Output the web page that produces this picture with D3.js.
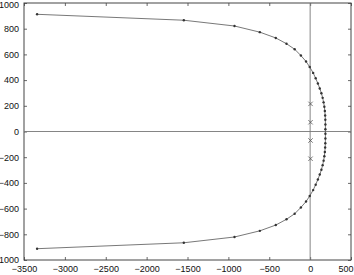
<!DOCTYPE html>
<html>
<head>
<meta charset="utf-8">
<script src="https://cdn.jsdelivr.net/npm/d3@7"></script>
<style>
  body { margin: 0; background: #fff; }
  svg text { font-family: "Liberation Sans", Arial, sans-serif; font-size: 9px; fill: #111; }
</style>
</head>
<body>
<div id="chart"></div>
<script>
// locus points (top branch then bottom branch)
const locusRe = [-3340, -1545, -925, -615, -420, -289, -189, -113, -50, -5, 37, 68, 95, 118, 138, 153, 165, 174, 180, 184, 186, 187, 187,
                 187, 187, 186, 184, 180, 174, 165, 153, 138, 118, 95, 68, 37, -5, -50, -113, -189, -289, -420, -615, -925, -1545, -3340];
const locusIm = [912, 866, 821, 773, 728, 683, 640, 591, 545, 502, 456, 414, 373, 335, 298, 262, 227, 193, 159, 125, 91, 54, 18,
                 -18, -54, -91, -125, -159, -193, -227, -262, -298, -335, -373, -414, -456, -502, -545, -591, -640, -683, -728, -773, -821, -866, -912];
// open-loop poles (x marks)
const poleRe = [5, 5, 5, 5];
const poleIm = [215, 72, -70, -212];

const xTicks = [-3500, -3000, -2500, -2000, -1500, -1000, -500, 0, 500];
const yTicks = [-1000, -800, -600, -400, -200, 0, 200, 400, 600, 800, 1000];

let margin = {top: 3, right: 3, bottom: 15, left: 24};
let W = 354, H = 275;
let width = W - margin.left - margin.right;
let height = H - margin.top - margin.bottom;

let svg = d3.select("#chart").append("svg")
    .attr("width", W)
    .attr("height", H);

let g = svg.append("g")
    .attr("transform", "translate(" + margin.left + "," + margin.top + ")");

let x = d3.scaleLinear().domain([-3500, 500]).range([0, width]);
let y = d3.scaleLinear().domain([-1000, 1000]).range([height, 0]);

let fmt = d => (d < 0 ? "\u2212" + Math.abs(d) : "" + d);

// axes with inward ticks on all four sides
let xAxisB = d3.axisBottom(x).tickValues(xTicks).tickSizeInner(-3).tickSizeOuter(0).tickPadding(6).tickFormat(fmt);
let xAxisT = d3.axisTop(x).tickValues(xTicks).tickSizeInner(-3).tickSizeOuter(0).tickFormat("");
let yAxisL = d3.axisLeft(y).tickValues(yTicks).tickSizeInner(-3).tickSizeOuter(0).tickPadding(5).tickFormat(fmt);
let yAxisR = d3.axisRight(y).tickValues(yTicks).tickSizeInner(-3).tickSizeOuter(0).tickFormat("");

let gx = g.append("g").attr("transform", "translate(0," + height + ")").call(xAxisB);
g.append("g").call(xAxisT);
let gy = g.append("g").call(yAxisL);
g.append("g").attr("transform", "translate(" + width + ",0)").call(yAxisR);

g.selectAll(".domain").remove();
g.selectAll(".tick line").attr("stroke", "#444").attr("stroke-width", 0.8);
g.selectAll(".tick text").style("font-size", "9px");

// keep the last x label inside the window
gx.selectAll(".tick text").filter(d => d === 500)
    .attr("text-anchor", "end").attr("dx", "2");
gy.selectAll(".tick text").filter(d => d === 1000).attr("dy", "0.45em");

// box
g.append("rect")
    .attr("x", 0).attr("y", 0)
    .attr("width", width).attr("height", height)
    .attr("fill", "none")
    .attr("stroke", "#444")
    .attr("stroke-width", 1);

// real and imaginary axes
g.append("line")
    .attr("x1", 0).attr("x2", width)
    .attr("y1", y(0)).attr("y2", y(0))
    .attr("stroke", "#777").attr("stroke-width", 0.9);
g.append("line")
    .attr("x1", x(0)).attr("x2", x(0))
    .attr("y1", 0).attr("y2", height)
    .attr("stroke", "#777").attr("stroke-width", 0.9);

// locus curve
let pts = locusRe.map((d, i) => [d, locusIm[i]]);
g.append("path")
    .datum(pts)
    .attr("fill", "none")
    .attr("stroke", "#555")
    .attr("stroke-width", 0.8)
    .attr("d", d3.line().x(d => x(d[0])).y(d => y(d[1])));

g.append("g").selectAll("circle")
    .data(pts)
    .enter().append("circle")
    .attr("cx", d => x(d[0]))
    .attr("cy", d => y(d[1]))
    .attr("r", 1.2)
    .attr("fill", "#333");

// pole markers
let s = 2.2;
let poles = g.append("g").selectAll("g")
    .data(poleRe.map((d, i) => [d, poleIm[i]]))
    .enter().append("g")
    .attr("transform", d => "translate(" + x(d[0]) + "," + y(d[1]) + ")");
poles.append("path")
    .attr("d", "M" + (-s) + "," + (-s) + "L" + s + "," + s + "M" + (-s) + "," + s + "L" + s + "," + (-s))
    .attr("stroke", "#555")
    .attr("stroke-width", 0.8)
    .attr("fill", "none");
</script>
</body>
</html>
